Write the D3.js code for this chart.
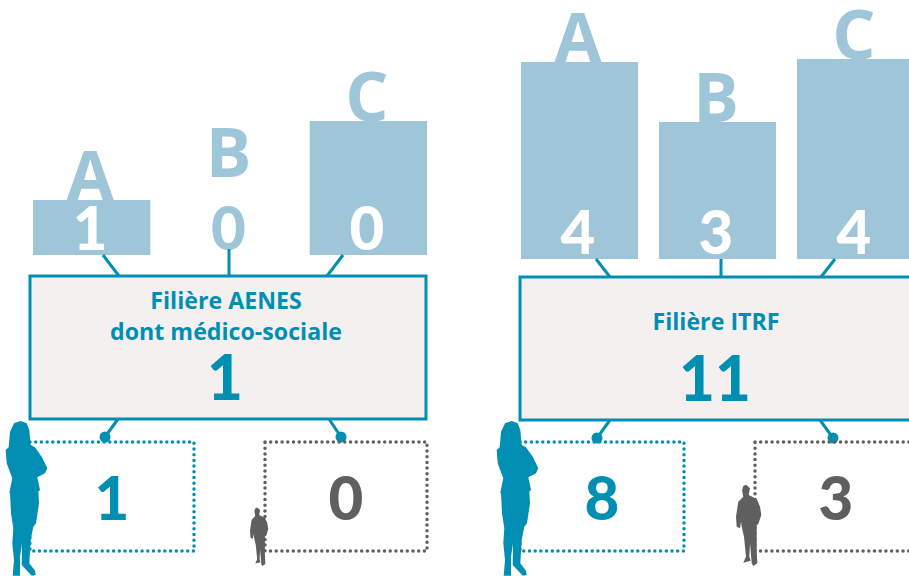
<!DOCTYPE html>
<html>
<head>
<meta charset="utf-8">
<script src="https://cdn.jsdelivr.net/npm/d3@7"></script>
<style>
html, body { margin: 0; padding: 0; background: #fff; }
svg { display: block; }
text { font-family: "Open Sans", sans-serif; font-weight: 700; text-anchor: middle; }
text.num { font-family: Lato, sans-serif; font-weight: 900; }
</style>
</head>
<body>
<script>
// data
const categories = ["A", "B", "C"];
const aenesCounts = [1, 0, 0];
const aenesBarHeights = [55, 0, 134];
const itrfCounts = [4, 3, 4];
const itrfBarHeights = [197, 137, 200];
const aenesTitle = ["Filière AENES", "dont médico-sociale"];
const itrfTitle = ["Filière ITRF"];
const aenesTotal = 1;
const itrfTotal = 11;
const aenesWomen = 1;
const aenesMen = 0;
const itrfWomen = 8;
const itrfMen = 3;

const teal = "#008fb3";
const light = "#9fc6d8";
const grey = "#5f5f5f";
const boxFill = "#f3f0ef";

// silhouettes, traced by hand, origin at the feet
const womanPath = "M20.7 -155L26.7 -152.7L29.3 -146L30.7 -131L35 -128.7L41.7 -119.3L47.3 -107.7L45 -102.7L37.3 -98.7L40 -86L38.3 -84.3L39 -72.7L36 -52.7L33.3 -49.3L30.7 -36L29.3 -12.7L35 -5.3L35.7 -1L31.7 -0.3L21.7 -11L22 -32.7L20 -19.3L20 -0.3L12.7 -0.3L14 -16L12.3 -32.7L13.3 -47.7L11 -62.7L10 -82.7L9.3 -83.3L12.3 -97.7L6.7 -112.7L5.7 -126L8.7 -128.7L10 -144L14 -152.7Z";
const manPath = "M10 -81.3L14 -77.7L12.7 -71L20.7 -67L24 -59.3L25.3 -51L22.3 -42L20.7 -41L20.7 -16L21.3 -2.7L17.3 0L15.7 -2.7L14 -22.7L13.3 -9.3L14.7 -5.3L7.3 -3.3L10 -9.3L8 -29.3L5.7 -39.3L5 -44.3L4 -37.7L0.7 -39.3L0 -49.3L2.3 -64.3L7.3 -69.3L6 -76L7.3 -80Z";

const svg = d3.select("body").append("svg").attr("width", 909).attr("height", 576);
const heightScale = d3.scaleLinear().domain([0, 200]).range([0, 200]);

function drawPanel(opts) {
    const g = svg.append("g").attr("transform", "translate(" + opts.left + ",0)");
    const boxW = 396;
    const x = d3.scaleBand().domain(categories).range(opts.barRange).paddingInner(0.152);
    const rows = categories.map((c, i) => ({ c: c, n: opts.counts[i], h: opts.heights[i] }));
    const mid = x.bandwidth() / 2;

    // letters go first, the bars cover their feet
    g.selectAll(".letter").data(rows).enter().append("text")
        .attr("x", d => x(d.c) + mid - 1.5)
        .attr("y", d => opts.base - (d.h ? heightScale(d.h) : 78))
        .attr("font-size", 68)
        .attr("fill", light)
        .text(d => d.c);

    g.selectAll(".bar").data(rows).enter().append("rect")
        .attr("x", d => x(d.c))
        .attr("y", d => opts.base - heightScale(d.h))
        .attr("width", x.bandwidth())
        .attr("height", d => heightScale(d.h))
        .attr("fill", light);

    g.selectAll(".count").data(rows).enter().append("text")
        .attr("class", "num")
        .attr("x", d => x(d.c) + mid - 1.5)
        .attr("y", opts.base - 5)
        .attr("font-size", 60)
        .attr("fill", d => d.h ? "#fff" : light)
        .text(d => d.n);

    // top connectors
    g.selectAll(".link").data(rows).enter().append("line")
        .attr("x1", (d, i) => opts.linkFrom[i])
        .attr("y1", d => d.h ? opts.base : opts.base - 6)
        .attr("x2", (d, i) => opts.linkTo[i])
        .attr("y2", opts.boxTop)
        .attr("stroke", teal)
        .attr("stroke-width", 3);

    g.append("rect")
        .attr("x", 0).attr("y", opts.boxTop)
        .attr("width", boxW).attr("height", opts.boxBottom - opts.boxTop)
        .attr("fill", boxFill).attr("stroke", teal).attr("stroke-width", 3);

    g.selectAll(".title").data(opts.title).enter().append("text")
        .attr("x", boxW / 2 - 2)
        .attr("y", (d, i) => opts.titleY + i * 31)
        .attr("font-size", 23.2)
        .attr("fill", teal)
        .text(d => d);

    g.append("text")
        .attr("class", "num")
        .attr("x", boxW / 2 - 3).attr("y", opts.boxBottom - 19)
        .attr("font-size", 62).attr("fill", teal)
        .text(opts.total);

    // bottom connectors with their dots
    opts.feet.forEach(p => {
        g.append("line")
            .attr("x1", p[0]).attr("y1", opts.boxBottom)
            .attr("x2", p[1]).attr("y2", opts.boxBottom + 18)
            .attr("stroke", teal).attr("stroke-width", 3);
        g.append("circle")
            .attr("cx", p[1]).attr("cy", opts.boxBottom + 18)
            .attr("r", 5.5).attr("fill", teal);
    });

    // dotted boxes
    const dotted = [
        { x0: 0, x1: 164, col: teal, n: opts.women },
        { x0: 235, x1: 397, col: grey, n: opts.men }
    ];
    g.selectAll(".dots").data(dotted).enter().append("rect")
        .attr("x", d => d.x0).attr("y", 442)
        .attr("width", d => d.x1 - d.x0).attr("height", 109)
        .attr("fill", "none").attr("stroke", d => d.col)
        .attr("stroke-width", 3.5).attr("stroke-linecap", "round")
        .attr("stroke-dasharray", "0 5.7");
    g.selectAll(".sub").data(dotted).enter().append("text")
        .attr("class", "num")
        .attr("x", d => (d.x0 + d.x1) / 2)
        .attr("y", 520)
        .attr("font-size", 60)
        .attr("fill", d => d.col)
        .text(d => d.n);

    g.append("path")
        .attr("transform", "translate(" + opts.womanX + ",576)")
        .attr("d", womanPath).attr("fill", teal);
    g.append("path")
        .attr("transform", "translate(" + opts.manX + ",566) scale(" + opts.manScale + ")")
        .attr("d", manPath).attr("fill", grey);
}

drawPanel({ left: 30, base: 255, boxTop: 276, boxBottom: 419, barRange: [3, 397],
    linkFrom: [73, 199, 313], linkTo: [89, 199, 297], feet: [[88, 75], [299, 311]],
    counts: aenesCounts, heights: aenesBarHeights,
    title: aenesTitle, titleY: 309, total: aenesTotal, women: aenesWomen, men: aenesMen,
    womanX: -30, manX: 220, manScale: 0.72 });
drawPanel({ left: 520, base: 259, boxTop: 277, boxBottom: 420, barRange: [1, 394],
    linkFrom: [76, 201, 315], linkTo: [90, 201, 301], feet: [[90, 77], [300, 313]],
    counts: itrfCounts, heights: itrfBarHeights,
    title: itrfTitle, titleY: 330, total: itrfTotal, women: itrfWomen, men: itrfMen,
    womanX: -29, manX: 216, manScale: 1 });
</script>
</body>
</html>
